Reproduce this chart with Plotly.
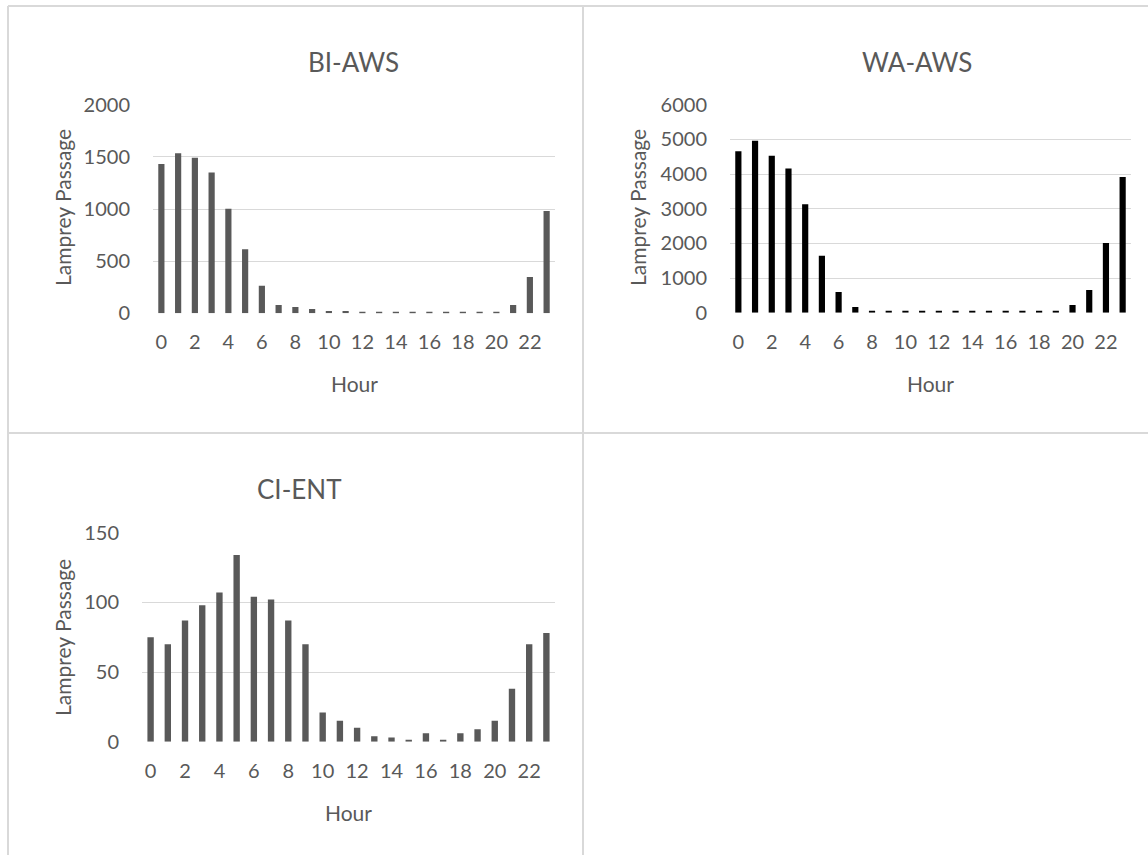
import plotly.graph_objects as go

hours = list(range(24))
bi_aws = [1431, 1534, 1492, 1351, 1003, 613, 265, 80, 61, 42, 22, 22, 16, 16, 15, 15, 15, 15, 15, 15, 15, 80, 348, 981]
wa_aws = [4654, 4962, 4529, 4163, 3125, 1644, 596, 163, 48, 35, 35, 35, 35, 35, 35, 35, 35, 35, 35, 48, 221, 654, 2010, 3913]
ci_ent = [75, 70, 87, 98, 107, 134, 104, 102, 87, 70, 21, 15, 10, 4, 3, 1, 6, 1, 6, 9, 15, 38, 70, 78]
xtick_vals = list(range(0, 24, 2))

W, H = 1148, 855
FONT = "Lato, 'Open Sans', sans-serif"
GREY = "#595959"
GRID = "#d9d9d9"

def px(x):
    return x / W

def py(y):
    return (H - y) / H

panels = [
    dict(name="BI-AWS", data=bi_aws, color="#595959", x0=153, x1=555, ytop=104.7, ybot=313.3,
         ymax=2000, dtick=500, title_x=353, title_y=62, ylab_x=62, ylab_y=208, hour_y=384),
    dict(name="WA-AWS", data=wa_aws, color="#000000", x0=730, x1=1131, ytop=104.7, ybot=312.7,
         ymax=6000, dtick=1000, title_x=917, title_y=62, ylab_x=637, ylab_y=208, hour_y=384),
    dict(name="CI-ENT", data=ci_ent, color="#595959", x0=142, x1=555, ytop=532.7, ybot=741.7,
         ymax=150, dtick=50, title_x=299, title_y=489, ylab_x=62, ylab_y=638, hour_y=812),
]

fig = go.Figure()
annotations = []
for i, p in enumerate(panels):
    sfx = "" if i == 0 else str(i + 1)
    fig.add_trace(go.Bar(x=hours, y=p["data"], marker_color=p["color"], marker_line_width=0,
                         xaxis="x" + sfx, yaxis="y" + sfx, showlegend=False))
    fig.update_layout(**{
        "xaxis" + sfx: dict(domain=[px(p["x0"]), px(p["x1"])], anchor="y" + sfx,
                            range=[-0.5, 23.5], tickmode="array", tickvals=xtick_vals,
                            showgrid=False, zeroline=False, showline=False, ticks="",
                            ticklabelstandoff=15, automargin=False,
                            tickfont=dict(family=FONT, size=20, color=GREY)),
        "yaxis" + sfx: dict(domain=[py(p["ybot"]), py(p["ytop"])], anchor="x" + sfx,
                            range=[0, p["ymax"]], dtick=p["dtick"], showgrid=True,
                            gridcolor=GRID, gridwidth=1.2, zeroline=False, showline=False,
                            ticks="", ticklabelstandoff=22, automargin=False,
                            tickfont=dict(family=FONT, size=20, color=GREY)),
    })
    cx = (p["x0"] + p["x1"]) / 2
    annotations.append(dict(text=p["name"], x=px(p["title_x"]), y=py(p["title_y"]),
                            xref="paper", yref="paper", showarrow=False, xanchor="center",
                            yanchor="middle", font=dict(family=FONT, size=26, color=GREY)))
    annotations.append(dict(text="Lamprey Passage", x=px(p["ylab_x"]), y=py(p["ylab_y"]),
                            xref="paper", yref="paper", showarrow=False, textangle=-90,
                            xanchor="center", yanchor="middle",
                            font=dict(family=FONT, size=21, color=GREY)))
    annotations.append(dict(text="Hour", x=px(cx), y=py(p["hour_y"]),
                            xref="paper", yref="paper", showarrow=False, xanchor="center",
                            yanchor="middle", font=dict(family=FONT, size=21, color=GREY)))

border = dict(color=GRID, width=2)
shapes = [
    dict(type="line", xref="paper", yref="paper", x0=px(8), x1=px(8), y0=py(6), y1=py(860), line=border),
    dict(type="line", xref="paper", yref="paper", x0=px(583), x1=px(583), y0=py(6), y1=py(860), line=border),
    dict(type="line", xref="paper", yref="paper", x0=px(8), x1=px(1150), y0=py(6), y1=py(6), line=border),
    dict(type="line", xref="paper", yref="paper", x0=px(8), x1=px(1150), y0=py(433), y1=py(433), line=border),
]

fig.update_layout(width=W, height=H, margin=dict(l=0, r=0, t=0, b=0, pad=0),
                  paper_bgcolor="white", plot_bgcolor="white", bargap=0.63,
                  annotations=annotations, shapes=shapes)

fig.write_html("out.html", config={"displayModeBar": False},
               post_script="document.body.style.margin='0';document.body.style.overflow='hidden';")
